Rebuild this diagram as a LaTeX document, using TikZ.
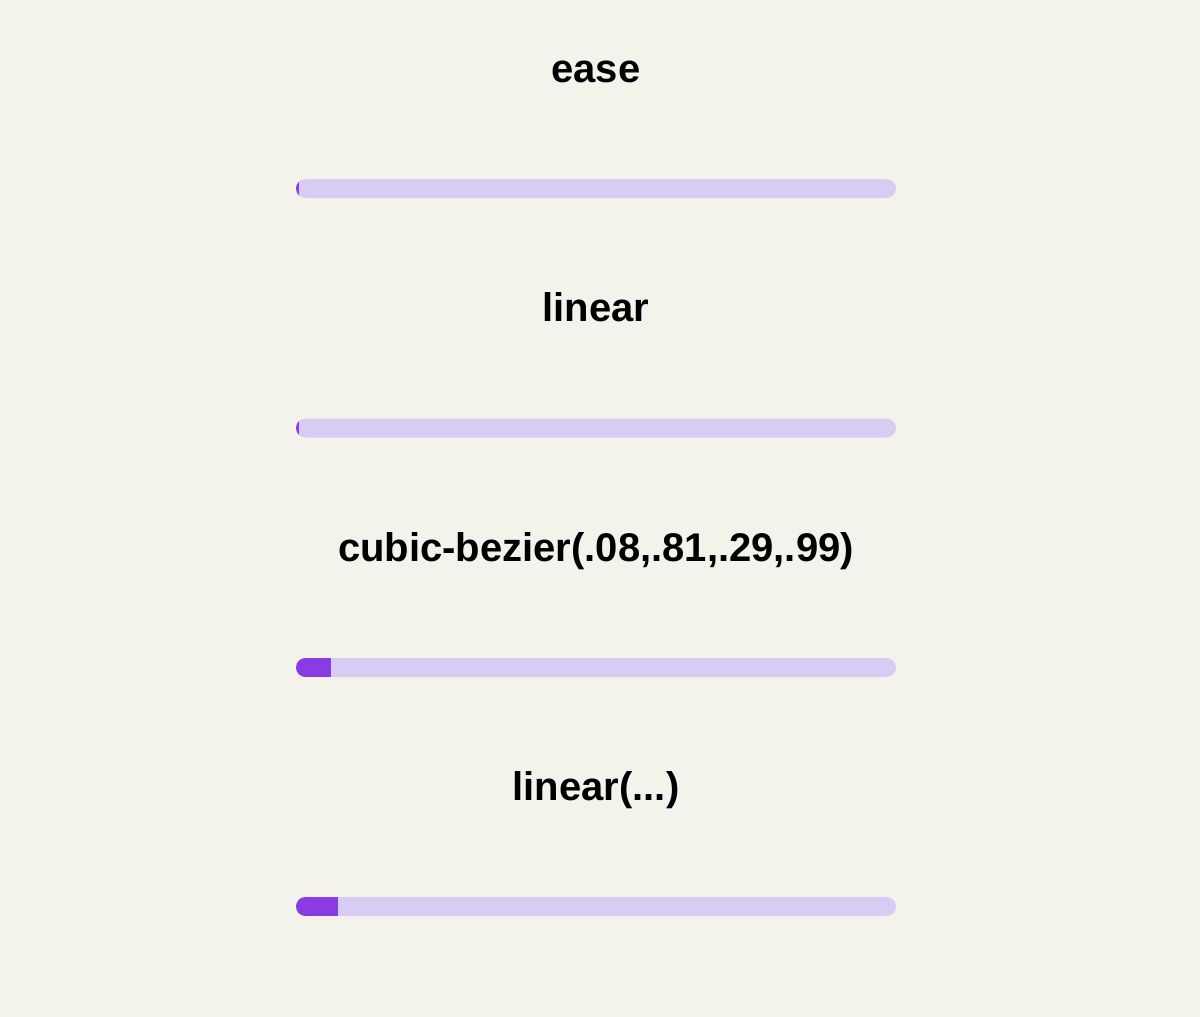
\documentclass[tikz,border=0pt]{standalone}
\usepackage{fontspec}
\setmainfont{Liberation Sans}
\definecolor{bgc}{RGB}{243,243,235}
\definecolor{trackc}{RGB}{216,204,244}
\definecolor{fillc}{RGB}{137,60,228}
\tikzset{
  lbl/.style={font=\fontsize{40}{48}\selectfont\bfseries, text=black, anchor=base, inner sep=0pt},
  track/.style={fill=trackc, rounded corners=9.5pt},
}
\newcommand{\progbar}[3]{% #1 name, #2 y center, #3 fill width
  \path[track] (296pt,-#2pt+9.5pt) rectangle (896pt,-#2pt-9.5pt);
  \coordinate (#1) at (596pt,-#2pt);
  \begin{scope}
    \clip[rounded corners=9.5pt] (296pt,-#2pt+9.5pt) rectangle (896pt,-#2pt-9.5pt);
    \fill[fillc] (296pt,-#2pt+9.5pt) rectangle (296pt+#3pt,-#2pt-9.5pt);
  \end{scope}
}
\begin{document}
\begin{tikzpicture}
\fill[bgc] (0,0) rectangle (1200pt,-1017pt);
\useasboundingbox (0,0) rectangle (1200pt,-1017pt);
\node[lbl] (t1) at (596pt,-82pt) {ease};
\node[lbl] (t2) at (596pt,-321.5pt) {linear};
\node[lbl] (t3) at (596pt,-561pt) {cubic-bezier(.08,.81,.29,.99)};
\node[lbl] (t4) at (596pt,-800pt) {linear(...)};
\progbar{b1}{188.5}{3}
\progbar{b2}{428}{3}
\progbar{b3}{667.5}{35}
\progbar{b4}{906.5}{42}
\end{tikzpicture}
\end{document}
